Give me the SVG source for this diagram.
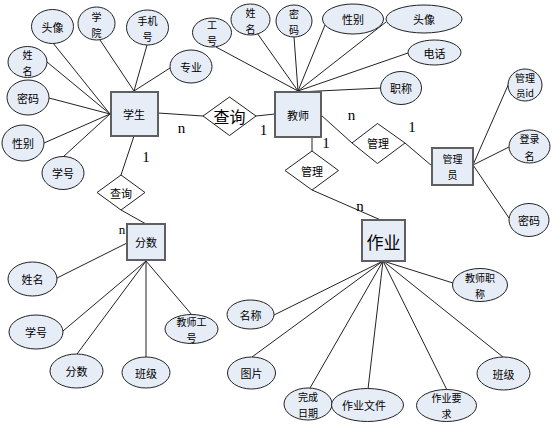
<svg xmlns="http://www.w3.org/2000/svg" width="553" height="430" viewBox="0 0 553 430">
<style>
.e{fill:#e7edf7;stroke:#222;stroke-width:1}
.b{fill:#e7edf7;stroke:#5f5f5f;stroke-width:2}
.d{fill:#fff;stroke:#222;stroke-width:1}
.c line{stroke:#222;stroke-width:1;fill:none}
text{font-family:"Noto Sans CJK SC","Noto Sans CJK JP",sans-serif;font-size:11px;fill:#000;text-anchor:middle;dominant-baseline:central}
.t2{font-size:10px}
.l{font-family:"Liberation Serif",serif;font-size:15px;dominant-baseline:auto}
</style>
<rect width="553" height="430" fill="#fff"/>
<g id="connectors" class="c">
<line x1="53" y1="43" x2="110" y2="114"/>
<line x1="100" y1="40" x2="134" y2="91"/>
<line x1="147" y1="45" x2="134" y2="91"/>
<line x1="170" y1="68" x2="134" y2="91"/>
<line x1="47" y1="62" x2="110" y2="114"/>
<line x1="49" y1="98" x2="110" y2="114"/>
<line x1="44" y1="143" x2="110" y2="114"/>
<line x1="63" y1="157" x2="110" y2="114"/>
<line x1="158" y1="113" x2="203" y2="116"/>
<line x1="256" y1="116" x2="275" y2="114"/>
<line x1="134" y1="136" x2="121" y2="175"/>
<line x1="121" y1="210" x2="146" y2="224"/>
<line x1="127" y1="243" x2="57" y2="278"/>
<line x1="146" y1="261" x2="63" y2="331"/>
<line x1="146" y1="261" x2="77" y2="354"/>
<line x1="146" y1="261" x2="146" y2="357"/>
<line x1="146" y1="261" x2="192" y2="315"/>
<line x1="216" y1="47" x2="298" y2="91"/>
<line x1="257" y1="33" x2="298" y2="91"/>
<line x1="294" y1="37" x2="298" y2="91"/>
<line x1="325" y1="25" x2="298" y2="91"/>
<line x1="386" y1="22" x2="298" y2="91"/>
<line x1="408" y1="53" x2="298" y2="91"/>
<line x1="381" y1="88" x2="298" y2="92"/>
<line x1="321" y1="115" x2="352" y2="143"/>
<line x1="405" y1="143" x2="432" y2="166"/>
<line x1="473" y1="165" x2="509" y2="83"/>
<line x1="473" y1="165" x2="509" y2="147"/>
<line x1="473" y1="165" x2="509" y2="218"/>
<line x1="312" y1="137" x2="312" y2="151"/>
<line x1="312" y1="190" x2="383" y2="221"/>
<line x1="383" y1="261" x2="274" y2="315"/>
<line x1="383" y1="261" x2="252" y2="357"/>
<line x1="383" y1="261" x2="310" y2="388"/>
<line x1="383" y1="261" x2="368" y2="389"/>
<line x1="383" y1="261" x2="447" y2="390"/>
<line x1="383" y1="261" x2="503" y2="357"/>
<line x1="383" y1="261" x2="453" y2="283"/>
</g>
<g id="student"><rect class="b" x="111" y="92" width="47" height="44"/><text x="134" y="114">学生</text></g>
<g id="s-touxiang"><ellipse class="e" cx="52.5" cy="26.5" rx="21" ry="17"/><text x="52.5" y="27">头像</text></g>
<g id="s-xueyuan"><ellipse class="e" cx="96.5" cy="23.5" rx="18.5" ry="16.5"/><text class="t2" x="96.5" y="16">学</text><text class="t2" x="96.5" y="32">院</text></g>
<g id="s-phone"><ellipse class="e" cx="147.5" cy="27.5" rx="21" ry="17.5"/><text class="t2" x="147.5" y="20">手机</text><text class="t2" x="147.5" y="36">号</text></g>
<g id="s-major"><ellipse class="e" cx="191" cy="66.5" rx="21" ry="16.5"/><text x="191" y="67">专业</text></g>
<g id="s-name"><ellipse class="e" cx="27.5" cy="62" rx="19.5" ry="15.5"/><text class="t2" x="27.5" y="54">姓</text><text class="t2" x="27.5" y="70">名</text></g>
<g id="s-pwd"><ellipse class="e" cx="28" cy="97.5" rx="21" ry="17.5"/><text x="28" y="97.5">密码</text></g>
<g id="s-sex"><ellipse class="e" cx="23" cy="143" rx="21" ry="18"/><text x="23" y="143">性别</text></g>
<g id="s-no"><ellipse class="e" cx="63" cy="173" rx="21" ry="16.5"/><text x="63" y="173">学号</text></g>
<g id="rel-query1"><polygon class="d" points="203,116 229.5,97 256,116 229.5,135.5"/><text x="229.5" y="116" style="font-size:16px">查询</text></g>
<g id="rel-query2"><polygon class="d" points="97,192.5 121,175 145,192.5 121,210"/><text x="121" y="192.5">查询</text></g>
<g id="score"><rect class="b" x="127" y="224" width="38" height="36"/><text x="146" y="242">分数</text></g>
<g id="sc-name"><ellipse class="e" cx="32.5" cy="279" rx="24.5" ry="17"/><text x="32.5" y="279">姓名</text></g>
<g id="sc-no"><ellipse class="e" cx="36" cy="332" rx="27" ry="17"/><text x="36" y="332">学号</text></g>
<g id="sc-score"><ellipse class="e" cx="76.5" cy="371" rx="26.5" ry="17"/><text x="76.5" y="371">分数</text></g>
<g id="sc-class"><ellipse class="e" cx="146" cy="372.5" rx="24" ry="15.5"/><text x="146" y="372.5">班级</text></g>
<g id="sc-tno"><ellipse class="e" cx="191.5" cy="329" rx="26.5" ry="14.5"/><text class="t2" x="191.5" y="321">教师工</text><text class="t2" x="191.5" y="337">号</text></g>
<g id="teacher"><rect class="b" x="275" y="92" width="46" height="45"/><text x="298" y="114.5">教师</text></g>
<g id="t-no"><ellipse class="e" cx="212" cy="32.5" rx="19.5" ry="14.5"/><text class="t2" x="212" y="24.5">工</text><text class="t2" x="212" y="40.5">号</text></g>
<g id="t-name"><ellipse class="e" cx="250.5" cy="19.5" rx="19.5" ry="15.5"/><text class="t2" x="250.5" y="12">姓</text><text class="t2" x="250.5" y="28">名</text></g>
<g id="t-pwd"><ellipse class="e" cx="294" cy="21" rx="18" ry="16"/><text class="t2" x="294" y="13">密</text><text class="t2" x="294" y="29.5">码</text></g>
<g id="t-sex"><ellipse class="e" cx="353" cy="19" rx="30.5" ry="15"/><text x="353" y="19">性别</text></g>
<g id="t-touxiang"><ellipse class="e" cx="424" cy="19" rx="38" ry="14"/><text x="424" y="19">头像</text></g>
<g id="t-phone"><ellipse class="e" cx="434.5" cy="52.5" rx="26.5" ry="12.5"/><text x="434.5" y="52.5">电话</text></g>
<g id="t-title"><ellipse class="e" cx="401" cy="88" rx="20.5" ry="16.5"/><text x="401" y="88">职称</text></g>
<g id="rel-manage1"><polygon class="d" points="352,143 377.5,123.5 405,143 377.5,163.5"/><text x="378" y="143">管理</text></g>
<g id="admin"><rect class="b" x="432" y="148" width="41" height="37"/><text class="t2" x="452.5" y="158">管理</text><text class="t2" x="452.5" y="174">员</text></g>
<g id="a-id"><ellipse class="e" cx="525" cy="85" rx="17" ry="16"/><text class="t2" x="525" y="77.5">管理</text><text class="t2" x="525" y="93" style="font-size:9.5px">员id</text></g>
<g id="a-login"><ellipse class="e" cx="529.5" cy="146.5" rx="20.5" ry="16.5"/><text class="t2" x="529.5" y="138.5">登录</text><text class="t2" x="529.5" y="155">名</text></g>
<g id="a-pwd"><ellipse class="e" cx="529" cy="220" rx="20" ry="16.5"/><text x="529" y="220">密码</text></g>
<g id="rel-manage2"><polygon class="d" points="285,170.5 312,151 338.5,170.5 312,190"/><text x="312" y="170.5">管理</text></g>
<g id="homework"><rect class="b" x="362" y="220" width="43" height="41"/><text x="383.5" y="241" style="font-size:17px">作业</text></g>
<g id="h-name"><ellipse class="e" cx="250.5" cy="314.5" rx="23.5" ry="14.5"/><text x="250.5" y="314.5">名称</text></g>
<g id="h-pic"><ellipse class="e" cx="251.5" cy="373" rx="24" ry="16"/><text x="251.5" y="373">图片</text></g>
<g id="h-date"><ellipse class="e" cx="308" cy="404" rx="24" ry="16"/><text class="t2" x="308" y="396">完成</text><text class="t2" x="308" y="412">日期</text></g>
<g id="h-file"><ellipse class="e" cx="367.5" cy="405" rx="36" ry="16.5"/><text x="364" y="405">作业文件</text></g>
<g id="h-req"><ellipse class="e" cx="446.5" cy="405.5" rx="30" ry="16"/><text class="t2" x="446.5" y="397.5">作业要</text><text class="t2" x="446.5" y="413.5">求</text></g>
<g id="h-class"><ellipse class="e" cx="503.5" cy="373.5" rx="26.5" ry="16.5"/><text x="503.5" y="373.5">班级</text></g>
<g id="h-ttitle"><ellipse class="e" cx="480" cy="285" rx="27.5" ry="16.5"/><text class="t2" x="480" y="277">教师职</text><text class="t2" x="480" y="293">称</text></g>
<g id="labels">
<text class="l" x="181.5" y="133">n</text>
<text class="l" x="263.5" y="135">1</text>
<text class="l" x="146" y="162">1</text>
<text class="l" x="122" y="234" style="font-size:13px">n</text>
<text class="l" x="351.5" y="120">n</text>
<text class="l" x="412" y="132">1</text>
<text class="l" x="326" y="148">1</text>
<text class="l" x="360" y="211">n</text>
</g>
</svg>
